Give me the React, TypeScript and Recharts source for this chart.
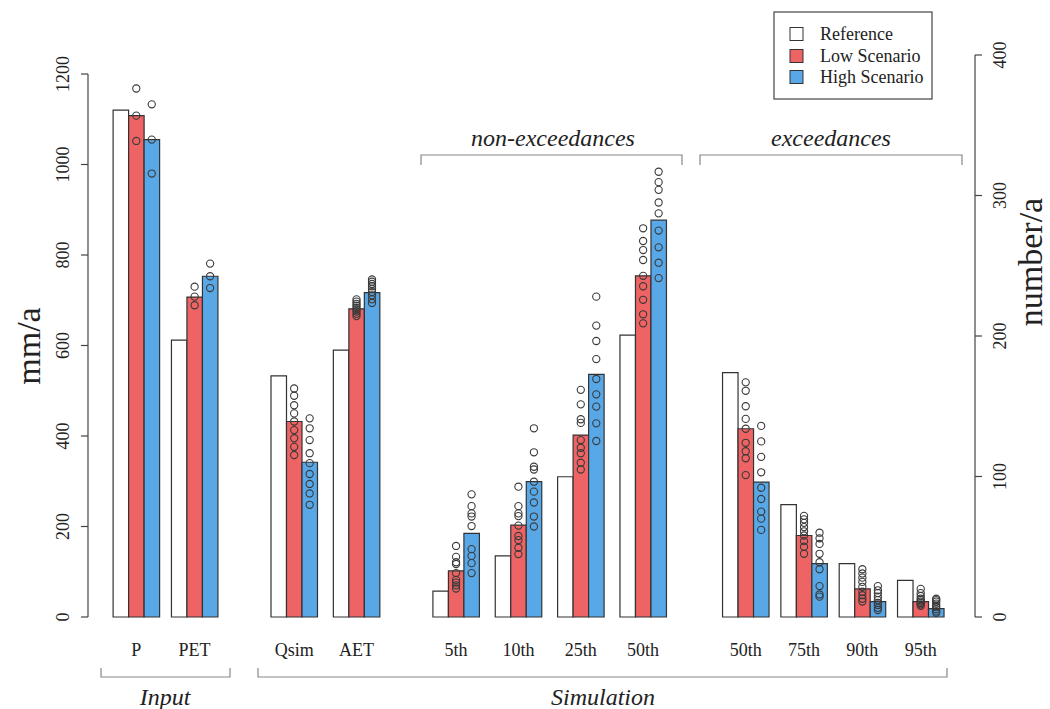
import React from 'react';
import {
  ComposedChart,
  Bar,
  Scatter,
  XAxis,
  YAxis,
  ReferenceLine,
  Customized,
} from 'recharts';

// ---- Water balance components (mm/a) ----
const mmCategories = ['P', 'PET', 'Qsim', 'AET', '5th', '10th', '25th', '50th'];
const mmReference = [1120, 612, 533, 590, 57, 135, 310, 623];
const mmLow = [1108, 707, 432, 681, 102, 203, 402, 754];
const mmHigh = [1055, 753, 342, 717, 185, 299, 536, 877];

// ensemble members per category (mm/a)
const mmLowMembers = [
  [1168, 1108, 1052],
  [730, 708, 689],
  [505, 489, 468, 450, 432, 413, 395, 376, 358],
  [702, 697, 692, 688, 683, 679, 675, 670, 665],
  [157, 133, 121, 117, 97, 82, 76, 70, 63],
  [288, 245, 229, 223, 202, 179, 170, 153, 139],
  [502, 470, 437, 429, 391, 374, 362, 341, 326],
  [859, 831, 811, 789, 754, 731, 701, 669, 649],
];
const mmHighMembers = [
  [1133, 1055, 980],
  [781, 753, 727],
  [439, 417, 391, 362, 340, 316, 294, 273, 248],
  [746, 741, 736, 731, 725, 718, 711, 702, 694],
  [271, 245, 229, 222, 201, 150, 135, 119, 97],
  [417, 364, 332, 326, 299, 277, 253, 222, 200],
  [708, 644, 610, 570, 526, 492, 465, 428, 389],
  [984, 961, 944, 916, 892, 854, 817, 783, 749],
];

// ---- Exceedance counts (number/a) ----
const exceedCategories = ['50th', '75th', '90th', '95th'];
const exceedReference = [174, 80, 38, 26];
const exceedLow = [134, 58, 20, 11];
const exceedHigh = [96, 38, 11, 6];

const exceedLowMembers = [
  [167, 161, 150, 141, 134, 124, 118, 113, 101],
  [72, 69.5, 67, 64, 61, 58, 54, 50, 45],
  [34, 31, 28, 25, 21.5, 18, 15.5, 13, 11],
  [20, 17, 15, 13, 12, 11, 10, 9, 8],
];
const exceedHighMembers = [
  [136, 125, 114, 103, 92, 84, 75, 70, 62],
  [60, 56, 52, 45, 39, 34, 22, 16, 14.5],
  [22, 19, 17, 14.5, 12, 10, 8.5, 6.5, 5],
  [13, 12, 11, 9.5, 8, 7, 5.5, 4, 3],
];

const leftTicks = [0, 200, 400, 600, 800, 1000, 1200];
const rightTicks = [0, 100, 200, 300, 400];

// ---- layout ----
// x slot of every category group (panels separated by wider gaps)
const groupSlots = [0, 2.9, 7.85, 10.95, 15.9, 19.0, 22.1, 25.2, 30.3, 33.2, 36.1, 39.0];
const X_DOMAIN: [number, number] = [-2.4, 41.7];
const BAR_W = 15.5;
const FONT = '"Liberation Serif", "Times New Roman", serif';
const AXIS = '#444';
const INK = '#222';
const RED = '#EE6363';
const BLUE = '#58A8E8';

const allLabels = [...mmCategories, ...exceedCategories];

const rows = [
  ...mmCategories.map((c, i) => ({
    pos: groupSlots[i],
    label: c,
    refMm: mmReference[i],
    lowMm: mmLow[i],
    highMm: mmHigh[i],
  })),
  ...exceedCategories.map((c, i) => ({
    pos: groupSlots[mmCategories.length + i],
    label: c,
    refN: exceedReference[i],
    lowN: exceedLow[i],
    highN: exceedHigh[i],
  })),
];

const toPoints = (members: number[][], slotOffset: number) =>
  members.flatMap((vals, i) => vals.map((v) => ({ pos: groupSlots[slotOffset + i], v })));

const lowMmPts = toPoints(mmLowMembers, 0);
const highMmPts = toPoints(mmHighMembers, 0);
const lowNPts = toPoints(exceedLowMembers, mmCategories.length);
const highNPts = toPoints(exceedHighMembers, mmCategories.length);

const ring = (dx: number) => (props: any) => {
  const { cx, cy } = props;
  if (cx == null || cy == null) return <g />;
  return <circle cx={cx + dx} cy={cy} r={3.6} fill="none" stroke="#3a3a3a" strokeWidth={1.1} />;
};

const XTick = (props: any) => {
  const { x, y, payload } = props;
  const idx = groupSlots.indexOf(payload.value);
  return (
    <text x={x} y={y + 33} textAnchor="middle" dominantBaseline="central"
      fontFamily={FONT} fontSize={18} fill={INK}>
      {idx >= 0 ? allLabels[idx] : ''}
    </text>
  );
};

const SideTick = (shift: number) => (props: any) => {
  const { x, y, payload } = props;
  const cx = x + shift;
  return (
    <text x={cx} y={y} transform={`rotate(-90 ${cx} ${y})`} textAnchor="middle"
      dominantBaseline="central" fontFamily={FONT} fontSize={18} fill={INK}>
      {payload.value}
    </text>
  );
};

const Annotations = () => {
  const bracket = '#888';
  const italic = { fontFamily: FONT, fontStyle: 'italic' as const, fontSize: 24, fill: INK };
  return (
    <g>
      {/* panel brackets */}
      <path d="M421 165 V155 H682 V165" fill="none" stroke={bracket} strokeWidth={1.2} />
      <text x={553} y={138} textAnchor="middle" dominantBaseline="central" {...italic}>non-exceedances</text>
      <path d="M700 165 V155 H962 V165" fill="none" stroke={bracket} strokeWidth={1.2} />
      <text x={831} y={138} textAnchor="middle" dominantBaseline="central" {...italic}>exceedances</text>
      <path d="M101 668 V677 H230 V668" fill="none" stroke={bracket} strokeWidth={1.2} />
      <text x={165} y={697} textAnchor="middle" dominantBaseline="central" {...italic}>Input</text>
      <path d="M258 668 V677 H947 V668" fill="none" stroke={bracket} strokeWidth={1.2} />
      <text x={603} y={697} textAnchor="middle" dominantBaseline="central" {...italic}>Simulation</text>

      {/* axis titles */}
      <text x={28} y={346} transform="rotate(-90 28 346)" textAnchor="middle" dominantBaseline="central"
        fontFamily={FONT} fontSize={34} fill={INK}>mm/a</text>
      <text x={1030} y={262} transform="rotate(-90 1030 262)" textAnchor="middle" dominantBaseline="central"
        fontFamily={FONT} fontSize={34} fill={INK}>number/a</text>

      {/* legend */}
      <rect x={774} y={12} width={158} height={87} fill="#fff" stroke={AXIS} strokeWidth={1.2} />
      {[
        { name: 'Reference', fill: '#fff', y: 34 },
        { name: 'Low Scenario', fill: RED, y: 56 },
        { name: 'High Scenario', fill: BLUE, y: 77 },
      ].map((e) => (
        <g key={e.name}>
          <rect x={790} y={e.y - 6.5} width={13} height={13} fill={e.fill} stroke="#333" strokeWidth={1} />
          <text x={820} y={e.y} dominantBaseline="central" fontFamily={FONT} fontSize={18} fill={INK}>{e.name}</text>
        </g>
      ))}
    </g>
  );
};

export default function App() {
  return (
    <div style={{ position: 'absolute', left: 0, top: 0, background: '#fff' }}>
      <ComposedChart width={1050} height={709} data={rows} barGap={0}
        margin={{ top: 55, right: 0, bottom: 0, left: 0 }}>
        <XAxis dataKey="pos" type="number" domain={X_DOMAIN} ticks={groupSlots} interval={0}
          axisLine={false} tickLine={false} tickSize={0} tickMargin={0} height={92} tick={<XTick />} />
        <YAxis yAxisId="left" domain={[0, 1242]} ticks={leftTicks} interval={0} width={88}
          axisLine={false} tickLine={{ stroke: AXIS, strokeWidth: 1.2 }} tickSize={7} tickMargin={2}
          tick={SideTick(-16)} />
        <YAxis yAxisId="right" orientation="right" domain={[0, 400]} ticks={rightTicks} interval={0} width={75}
          axisLine={{ stroke: AXIS, strokeWidth: 1.2 }} tickLine={{ stroke: AXIS, strokeWidth: 1.2 }} tickSize={7}
          tickMargin={2} tick={SideTick(16)} />
        <ReferenceLine yAxisId="left" segment={[{ x: X_DOMAIN[0], y: 0 }, { x: X_DOMAIN[0], y: 1200 }]}
          stroke={AXIS} strokeWidth={1.2} />

        <Bar yAxisId="left" dataKey="refMm" stackId="ref" barSize={BAR_W} fill="#fff" stroke="#333" strokeWidth={1.2} isAnimationActive={false} />
        <Bar yAxisId="left" dataKey="lowMm" stackId="low" barSize={BAR_W} fill={RED} stroke="#333" strokeWidth={1.2} isAnimationActive={false} />
        <Bar yAxisId="left" dataKey="highMm" stackId="high" barSize={BAR_W} fill={BLUE} stroke="#333" strokeWidth={1.2} isAnimationActive={false} />
        <Bar yAxisId="right" dataKey="refN" stackId="ref" barSize={BAR_W} fill="#fff" stroke="#333" strokeWidth={1.2} isAnimationActive={false} />
        <Bar yAxisId="right" dataKey="lowN" stackId="low" barSize={BAR_W} fill={RED} stroke="#333" strokeWidth={1.2} isAnimationActive={false} />
        <Bar yAxisId="right" dataKey="highN" stackId="high" barSize={BAR_W} fill={BLUE} stroke="#333" strokeWidth={1.2} isAnimationActive={false} />

        <Scatter yAxisId="left" data={lowMmPts} dataKey="v" shape={ring(0)} isAnimationActive={false} />
        <Scatter yAxisId="left" data={highMmPts} dataKey="v" shape={ring(BAR_W)} isAnimationActive={false} />
        <Scatter yAxisId="right" data={lowNPts} dataKey="v" shape={ring(0)} isAnimationActive={false} />
        <Scatter yAxisId="right" data={highNPts} dataKey="v" shape={ring(BAR_W)} isAnimationActive={false} />

        <Customized component={<Annotations />} />
      </ComposedChart>
    </div>
  );
}
